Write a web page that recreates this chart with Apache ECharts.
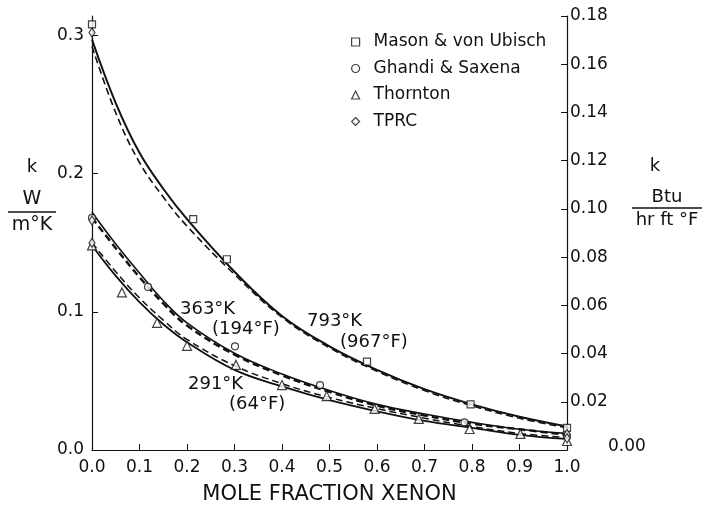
<!DOCTYPE html>
<html>
<head>
<meta charset="utf-8">
<script src="https://cdn.jsdelivr.net/npm/echarts@6/dist/echarts.min.js"></script>
<style>html,body{margin:0;padding:0;background:#fff}#c{width:702px;height:508px}</style>
</head>
<body>
<div id="c"></div>
<script>
// ---- data (k in W/m K vs mole fraction xenon) ----
var curveX      = [0, 0.05, 0.1, 0.15, 0.2, 0.3, 0.4, 0.5, 0.6, 0.7, 0.8, 0.9, 1.0];
var k793Solid   = [0.297, 0.251, 0.215, 0.189, 0.167, 0.129, 0.097, 0.075, 0.058, 0.044, 0.033, 0.024, 0.017];
var k793Dashed  = [0.292, 0.244, 0.208, 0.183, 0.162, 0.127, 0.096, 0.074, 0.057, 0.043, 0.032, 0.023, 0.016];
var k363Solid   = [0.172, 0.149, 0.128, 0.108, 0.092, 0.070, 0.055, 0.043, 0.033, 0.026, 0.020, 0.015, 0.012];
var k363Dashed  = [0.168, 0.146, 0.125, 0.106, 0.090, 0.069, 0.054, 0.042, 0.032, 0.025, 0.019, 0.015, 0.011];
var k291Solid   = [0.148, 0.126, 0.107, 0.091, 0.078, 0.058, 0.046, 0.036, 0.028, 0.021, 0.016, 0.011, 0.008];
var k291Dashed  = [0.150, 0.129, 0.110, 0.094, 0.080, 0.061, 0.048, 0.038, 0.030, 0.023, 0.017, 0.012, 0.009];

var masonX  = [0, 0.213, 0.284, 0.579, 0.797, 1.0];
var masonK  = [0.308, 0.167, 0.138, 0.064, 0.033, 0.016];
var ghandiX = [0, 0.118, 0.301, 0.48, 0.784, 1.0];
var ghandiK = [0.168, 0.118, 0.075, 0.047, 0.020, 0.0098];
var thorntonX = [0, 0.063, 0.137, 0.2, 0.303, 0.4, 0.494, 0.595, 0.688, 0.795, 0.902, 1.0];
var thorntonK = [0.148, 0.114, 0.092, 0.0754, 0.0616, 0.047, 0.039, 0.0297, 0.0225, 0.0152, 0.0116, 0.0065];
var tprcX = [0, 0, 0, 1.0, 1.0];
var tprcK = [0.302, 0.166, 0.150, 0.0115, 0.0085];

var xTicks = [0, 0.1, 0.2, 0.3, 0.4, 0.5, 0.6, 0.7, 0.8, 0.9, 1.0];
var leftTicks = [0, 0.1, 0.2, 0.3];
var rightTicks = [0, 0.02, 0.04, 0.06, 0.08, 0.10, 0.12, 0.14, 0.16, 0.18];

var legendNames = ['Mason & von Ubisch', 'Ghandi & Saxena', 'Thornton', 'TPRC'];
var tempLabels = [['363°K', '(194°F)'], ['291°K', '(64°F)'], ['793°K', '(967°F)']];

function pairs(xs, ys) { return xs.map(function (x, i) { return [x, ys[i]]; }); }

var FONT = 'DejaVu Sans';
var black = '#111';

function lineSeries(name, ys, width, dashed) {
  return {
    name: name, type: 'line', data: pairs(curveX, ys), smooth: 0.4,
    showSymbol: false, symbol: 'none', silent: true, z: 2,
    lineStyle: { color: black, width: width, type: dashed ? [7, 4] : 'solid' }
  };
}
function scatterSeries(name, xs, ys, symbol, size) {
  return {
    name: name, type: 'scatter', data: pairs(xs, ys), symbol: symbol, symbolSize: size, z: 5,
    itemStyle: { color: '#fff', borderColor: black, borderWidth: 1.2 }
  };
}

var chart = echarts.init(document.getElementById('c'), null, { renderer: 'canvas' });
chart.setOption({
  animation: false,
  backgroundColor: '#fff',
  textStyle: { fontFamily: FONT, color: black },
  grid: { left: 92, right: 135, top: 16, bottom: 58, containLabel: false, outerBoundsMode: 'none' },
  legend: {
    orient: 'vertical', left: 346, top: 27, itemGap: 6.5, itemWidth: 8, itemHeight: 8,
    selectedMode: false,
    textStyle: { fontFamily: FONT, fontSize: 17, color: black, lineHeight: 20, padding: [0, 0, 0, 9] },
    data: legendNames.map(function (n, i) {
      return { name: n, icon: ['rect', 'circle', 'triangle', 'diamond'][i],
        itemStyle: { color: '#fff', borderColor: black, borderWidth: 1.2 } };
    })
  },
  xAxis: {
    type: 'value', min: 0, max: 1, interval: 0.1,
    name: 'MOLE FRACTION XENON', nameLocation: 'middle', nameGap: 34,
    nameTextStyle: { fontFamily: FONT, fontSize: 21, color: black },
    axisLine: { show: true, lineStyle: { color: black, width: 1.2 } },
    axisTick: { show: true, inside: true, length: 6, lineStyle: { color: black } },
    axisLabel: { fontFamily: FONT, fontSize: 17, color: black, margin: 9,
      customValues: xTicks, formatter: function (v) { return v.toFixed(1); } },
    splitLine: { show: false }
  },
  yAxis: [{
    type: 'value', min: 0, max: 0.314, interval: 0.1, position: 'left',
    axisLine: { show: true, lineStyle: { color: black, width: 1.2 } },
    axisTick: { show: true, inside: true, length: 6, customValues: leftTicks, lineStyle: { color: black } },
    axisLabel: { fontFamily: FONT, fontSize: 17, color: black, margin: 8,
      customValues: leftTicks, formatter: function (v) { return v.toFixed(1); } },
    splitLine: { show: false }
  }, {
    type: 'value', min: 0, max: 0.18, interval: 0.02, position: 'right',
    axisLine: { show: true, lineStyle: { color: black, width: 1.2 } },
    axisTick: { show: true, inside: true, length: 6, customValues: rightTicks, lineStyle: { color: black } },
    axisLabel: { fontFamily: FONT, fontSize: 17, color: black, margin: 3,
      customValues: rightTicks,
      formatter: function (v) { return v === 0 ? '{z|0.00}' : v.toFixed(2); },
      rich: { z: { fontFamily: FONT, fontSize: 17, color: black, padding: [0, 0, 6, 38] } } },
    splitLine: { show: false }
  }],
  series: [
    lineSeries('793s', k793Solid, 2, false),
    lineSeries('793d', k793Dashed, 1.6, true),
    lineSeries('363s', k363Solid, 1.6, false),
    lineSeries('363d', k363Dashed, 2.4, true),
    lineSeries('291s', k291Solid, 1.8, false),
    lineSeries('291d', k291Dashed, 1.5, true),
    scatterSeries(legendNames[0], masonX, masonK, 'rect', 7),
    scatterSeries(legendNames[1], ghandiX, ghandiK, 'circle', 7),
    scatterSeries(legendNames[2], thorntonX, thorntonK, 'triangle', 9),
    scatterSeries(legendNames[3], tprcX, tprcK, 'diamond', [6, 9])
  ],
  graphic: [
    { type: 'text', left: 180, top: 300, style: { text: tempLabels[0][0], font: '18px ' + FONT, fill: black } },
    { type: 'text', left: 212, top: 320, style: { text: tempLabels[0][1], font: '18px ' + FONT, fill: black } },
    { type: 'text', left: 188, top: 375, style: { text: tempLabels[1][0], font: '18px ' + FONT, fill: black } },
    { type: 'text', left: 229, top: 395, style: { text: tempLabels[1][1], font: '18px ' + FONT, fill: black } },
    { type: 'text', left: 307, top: 312, style: { text: tempLabels[2][0], font: '18px ' + FONT, fill: black } },
    { type: 'text', left: 340, top: 333, style: { text: tempLabels[2][1], font: '18px ' + FONT, fill: black } },
    // left axis title
    { type: 'text', x: 32, y: 167, style: { text: 'k', font: '18px ' + FONT, fill: black, align: 'center', verticalAlign: 'middle' } },
    { type: 'text', x: 32, y: 199, style: { text: 'W', font: '19px ' + FONT, fill: black, align: 'center', verticalAlign: 'middle' } },
    { type: 'line', shape: { x1: 8, y1: 212, x2: 56, y2: 212 }, style: { stroke: black, lineWidth: 1.3 } },
    { type: 'text', x: 32, y: 225, style: { text: 'm°K', font: '19px ' + FONT, fill: black, align: 'center', verticalAlign: 'middle' } },
    // right axis title
    { type: 'text', x: 655, y: 166, style: { text: 'k', font: '18px ' + FONT, fill: black, align: 'center', verticalAlign: 'middle' } },
    { type: 'text', x: 667, y: 197, style: { text: 'Btu', font: '18px ' + FONT, fill: black, align: 'center', verticalAlign: 'middle' } },
    { type: 'line', shape: { x1: 632, y1: 208, x2: 702, y2: 208 }, style: { stroke: black, lineWidth: 1.3 } },
    { type: 'text', x: 667, y: 220, style: { text: 'hr ft °F', font: '18px ' + FONT, fill: black, align: 'center', verticalAlign: 'middle' } }
  ]
});
</script>
</body>
</html>
